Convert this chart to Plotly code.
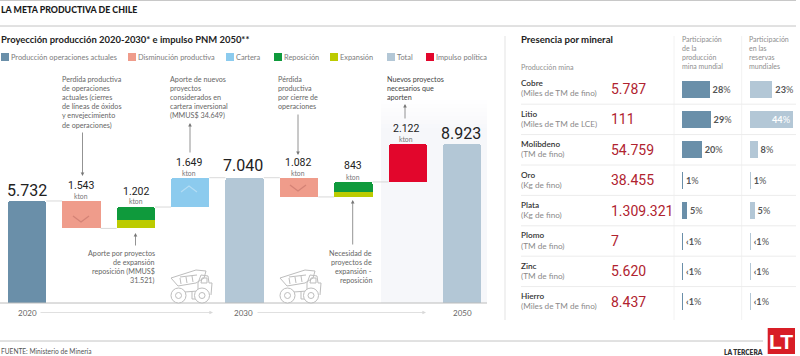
import plotly.graph_objects as go

W, H = 800, 356
SANS = "Lato"
NARROW = "Roboto"

# ---- data
steps = ["2020", "Disminución A", "Aporte", "Cartera", "2030", "Disminución B", "Necesidad", "Impulso", "2050"]
totals = [5732, None, None, None, 7040, None, None, None, 8923]
decline_from = [None, 5732, None, None, None, 7040, None, None, None]
decline = [None, 1543, None, None, None, 1082, None, None, None]
spacer_up = [None, None, 4189, 5391, None, None, 5958, 6801, None]
expansion = [None, None, 452, None, None, None, 293, None, None]
reposition = [None, None, 750, None, None, None, 550, None, None]
cartera = [None, None, None, 1649, None, None, None, None, None]
impulso = [None, None, None, None, None, None, None, 2122, None]

step_labels = ["5.732", "1.543", "1.202", "1.649", "7.040", "1.082", "843", "2.122", "8.923"]

minerals = ["Cobre", "Litio", "Molibdeno", "Oro", "Plata", "Plomo", "Zinc", "Hierro"]
units = ["(Miles de TM de fino)", "(Miles de TM de LCE)", "(TM de fino)", "(Kg de fino)",
         "(Kg de fino)", "(TM de fino)", "(TM de fino)", "(Miles de TM de fino)"]
production = ["5.787", "111", "54.759", "38.455", "1.309.321", "7", "5.620", "8.437"]
share_mine = [28, 29, 20, 1, 5, 0.7, 0.7, 0.7]
share_mine_lbl = ["<b>28</b>%", "<b>29</b>%", "<b>20</b>%", "<b>1</b>%", "<b>5</b>%", "<b>‹1</b>%", "<b>‹1</b>%", "<b>‹1</b>%"]
share_res = [23, 44, 8, 1, 5, 0.7, 0.7, 0.7]
share_res_lbl = ["<b>23</b>%", "<b>44</b>%", "<b>8</b>%", "<b>1</b>%", "<b>5</b>%", "<b>‹1</b>%", "<b>‹1</b>%", "<b>‹1</b>%"]

C_ACT, C_DEC, C_CAR, C_REP, C_EXP, C_TOT, C_RED = "#6a8fa9", "#ef9c8b", "#8ccbee", "#0f9a3c", "#bccb00", "#b3c7d6", "#e2062c"
C_TOTS = [C_ACT, C_TOT, C_TOT, C_TOT, C_TOT, C_TOT, C_TOT, C_TOT, C_TOT]
C_VAL = "#b0232f"

# ---- pixel helpers
PX = lambda x: x / W
PY = lambda y: 1 - y / H
STEP = 54.4
X0 = 27
BARW = 38.5 / STEP
PXU = 0.0178
YMAX = 303 / PXU

fig = go.Figure()
xkw = dict(x=list(range(9)), width=BARW, hoverinfo="skip", showlegend=False)

def bar(y, color, axis="y", radius=3):
    fig.add_trace(go.Bar(y=y, yaxis=axis, marker=dict(color=color, line_width=0, cornerradius=radius), **xkw))

bar(totals, C_TOTS)
bar(spacer_up, "rgba(0,0,0,0)", radius=0)
bar(expansion, C_EXP, radius=0)
bar(reposition, C_REP)
bar(cartera, C_CAR)
bar(impulso, C_RED)
# declines hang from the previous level: stacked on a mirrored axis so the tip points down
bar([None if v is None else YMAX - v for v in decline_from], "rgba(0,0,0,0)", axis="y2", radius=0)
bar(decline, C_DEC, axis="y2")

# right-hand panels
RSTEP, RC = 30.4, 89
ry = list(range(8))
fig.add_trace(go.Bar(y=ry, x=share_mine, orientation="h", width=17 / RSTEP, xaxis="x2", yaxis="y3",
                     marker=dict(color=C_ACT, line_width=0), text=share_mine_lbl, textposition="outside",
                     cliponaxis=False, textfont=dict(family=SANS, size=9.2, color="#555"), hoverinfo="skip", showlegend=False))
fig.add_trace(go.Bar(y=ry, x=share_res, orientation="h", width=17 / RSTEP, xaxis="x3", yaxis="y3",
                     marker=dict(color=C_TOT, line_width=0), text=share_res_lbl,
                     textposition=["outside", "inside"] + ["outside"] * 6,
                     insidetextanchor="end", constraintext="none",
                     cliponaxis=False,
                     textfont=dict(family=SANS, size=9.2, color=["#555", "#fff"] + ["#555"] * 6), hoverinfo="skip", showlegend=False))

shapes, annots = [], []

def line(x0, y0, x1, y1, color="#e6e6e6", width=1, dash=None):
    shapes.append(dict(type="line", xref="paper", yref="paper", x0=PX(x0), y0=PY(y0), x1=PX(x1), y1=PY(y1),
                       line=dict(color=color, width=width, dash=dash or "solid")))

def rect(x0, y0, x1, y1, color, layer="below"):
    shapes.append(dict(type="rect", xref="paper", yref="paper", x0=PX(x0), y0=PY(y0), x1=PX(x1), y1=PY(y1),
                       fillcolor=color, line_width=0, layer=layer))

def txt(x, y, s, size=7.2, color="#666", anchor="left", family=SANS, weight=None):
    font = dict(family=family, size=size, color=color)
    if weight:
        font["weight"] = weight
    annots.append(dict(x=PX(x), y=PY(y), xref="paper", yref="paper", text=s, showarrow=False, xanchor=anchor,
                       yanchor="middle", font=font, borderpad=0, borderwidth=0))

def block(x, y, lines, anchor="left", step=9.1, **kw):
    for i, s in enumerate(lines):
        txt(x, y + i * step, s, anchor=anchor, **kw)

def arrow(x0, y0, x1, y1, color="#777", width=0.8, size=0.9):
    annots.append(dict(x=PX(x1), y=PY(y1), ax=x0 - x1, ay=y0 - y1, xref="paper", yref="paper", axref="pixel", ayref="pixel",
                       text="", showarrow=True, arrowhead=2, arrowsize=size, arrowwidth=width, arrowcolor=color))

def path(points, color="#bdbdbd", width=1, layer="above", close=False):
    d = "M" + " L".join(f"{PX(a):.5f},{PY(b):.5f}" for a, b in points) + (" Z" if close else "")
    shapes.append(dict(type="path", xref="paper", yref="paper", path=d, layer=layer, line=dict(color=color, width=width)))

def circle(cx, cy, r, color="#bdbdbd"):
    shapes.append(dict(type="circle", xref="paper", yref="paper", x0=PX(cx - r), x1=PX(cx + r), y0=PY(cy - r), y1=PY(cy + r),
                       line=dict(color=color, width=1), fillcolor="#fff"))

def truck(ox, oy):
    path([(ox + 1, oy + 9), (ox + 26, oy + 1), (ox + 36, oy + 2), (ox + 34, oy + 9), (ox + 26, oy + 14), (ox + 8, oy + 17)], close=True)
    path([(ox + 10, oy + 9), (ox + 11, oy + 15)])
    path([(ox + 16, oy + 8), (ox + 17, oy + 14)])
    path([(ox + 22, oy + 7), (ox + 23, oy + 13)])
    path([(ox + 10, oy + 8), (ox + 27, oy + 6)])
    path([(ox + 28, oy + 14), (ox + 28, oy + 22), (ox + 15, oy + 23), (ox + 15, oy + 29)])
    path([(ox + 28, oy + 14), (ox + 31, oy + 6), (ox + 38, oy + 7), (ox + 39, oy + 14), (ox + 42, oy + 14), (ox + 41, oy + 26)])
    path([(ox + 32, oy + 9), (ox + 37, oy + 9), (ox + 37, oy + 14), (ox + 31, oy + 14)], close=True)
    path([(ox + 22, oy + 22), (ox + 22, oy + 30), (ox + 26, oy + 30)])
    circle(ox + 8.5, oy + 26.5, 7.5); circle(ox + 8.5, oy + 26.5, 3)
    circle(ox + 32, oy + 26.5, 7.5); circle(ox + 32, oy + 26.5, 3)

# panel backdrop (fading out towards its top) and rules
rect(381, 100, 487, 303, "#f6f7fa")
for k in range(8):
    rect(381, 100 + 4 * k, 487, 104 + 4 * k, f"rgba(255,255,255,{0.85 - 0.11 * k:.2f})")
line(505, 36, 505, 320, "#f1f1f1", 2)
line(0, 0.5, 796, 0.5, "#c8c8c8", 1)
line(0, 26, 796, 26, "#c4c4c4", 1)
line(0, 341, 763, 341, "#c4c4c4", 1)
line(0, 303, 487, 303, "#bcbcbc", 1)
for vx in (674, 741.7):
    line(vx, 36, vx, 320, "#f2f2f2", 1)
for i in range(7):
    hy = RC + (i + 0.5) * RSTEP
    line(521, hy, 796, hy, "#ececec", 1)

# connector levels between bars
levels = [(0, 5732), (1, 4189), (2, 5391), (3, 7040), (4, 7040), (5, 5958), (6, 6801)]
for i, lv in levels:
    a = X0 + STEP * i + 19.2
    b = X0 + STEP * (i + 1) - 19.2
    ly = 303 - lv * PXU
    line(a, ly, b, ly, "#cfcfcf", 0.8)

# chevrons
for cx, cy, up in [(81, 219, False), (189, 189, True), (298, 188, False)]:
    s = -1 if up else 1
    path([(cx - 8, cy - 3 * s), (cx, cy + 3 * s), (cx + 8, cy - 3 * s)], color="rgba(255,255,255,0.35)" if up else "rgba(190,110,100,0.55)", width=1.2)

truck(170, 269)
truck(279, 269)

# header
txt(1, 9, "LA META PRODUCTIVA DE CHILE", size=8.8, color="#1a1a1a", weight=900)
txt(1, 39, "Proyección producción 2020-2030* e impulso PNM 2050**", size=9.45, color="#222", weight=700)
txt(521, 39, "Presencia por mineral", size=9.6, color="#222", weight=700)

# legend
legend_items = [(1, "Producción operaciones actuales", C_ACT), (128, "Disminución productiva", C_DEC), (226, "Cartera", C_CAR),
                (274, "Reposición", C_REP), (330, "Expansión", C_EXP), (387, "Total", C_TOT), (426, "Impulso política", C_RED)]
for lx, name, col in legend_items:
    rect(lx, 53, lx + 8, 61, col)
    txt(lx + 10, 57, name, size=7.4, color="#7c7c7c")

# step labels
label_pos = [(27, 190, 16), (81, 185, 10.5), (135.5, 191, 10.5), (189, 163, 10.5), (243, 166, 16), (298, 163, 10.5), (352.5, 166, 10.5), (406, 128, 10.5), (461, 133, 16)]
for s, (lx, ly, fs) in zip(step_labels, label_pos):
    txt(lx, ly, s, size=fs, color="#222", anchor="center", family=NARROW)
for lx, ly in [(81, 196), (135.5, 201), (189, 172.5), (298, 172.5), (352.5, 176.5), (406, 139)]:
    txt(lx, ly, "kton", size=6.8, color="#777", anchor="center")

# notes
block(62, 79.5, ["Perdida productiva", "de operaciones", "actuales (cierres", "de líneas de óxidos", "y envejecimiento", "de operaciones)"])
block(170, 79.5, ["Aporte de nuevos", "proyectos", "considerados en", "cartera inversional", "(MMUS$ 34.649)"])
block(155, 253.3, ["Aporte por proyectos", "de expansión", "reposición (MMUS$", "31.521)"], anchor="right")
block(278, 79.5, ["Pérdida", "productiva", "por cierre de", "operaciones"])
block(372, 253.3, ["Necesidad de", "proyectos de", "expansión -", "reposición"], anchor="right")
block(387, 79.5, ["Nuevos proyectos", "necesarios que", "aporten"], color="#444")

arrow(82.5, 131, 82.5, 176)
arrow(190, 154, 190, 123)
arrow(135.5, 247, 135.5, 233)
arrow(298, 113, 298, 155)
arrow(352.7, 246, 352.7, 200)
arrow(405, 120, 405, 104)

# time axis
for s, lx in [("2020", 27), ("2030", 243), ("2050", 462.5)]:
    txt(lx, 312.5, s, size=8, color="#666", anchor="center")
arrow(39, 312.5, 213, 312.5, color="#d8d8d8")
arrow(256, 312.5, 426, 312.5, color="#d8d8d8")

# right panel text
txt(521, 67.5, "Producción mina", size=7.2, color="#909090")
block(682, 39, ["Participación", "de la", "producción", "mina mundial"], color="#8e8e8e", size=7)
block(749, 39, ["Participación", "en las", "reservas", "mundiales"], color="#8e8e8e", size=7)
for i, (m, u, v) in enumerate(zip(minerals, units, production)):
    cy = RC + i * RSTEP
    txt(521, cy - 5.6, m, size=8.2, color="#333", weight=600)
    txt(521, cy + 4.5, u, size=8.2, color="#8a8a8a")
    txt(610.5, cy, v, size=14, color=C_VAL, family=NARROW)

# footer
txt(1, 351, "FUENTE: Ministerio de Minería", size=6.6, color="#555")
txt(763, 352, "LA TERCERA", size=6.6, color="#333", anchor="right", weight=800)
rect(767.7, 328, 795, 354, "#d81e26", layer="above")
txt(781.4, 341, "LT", size=21, color="#fff", anchor="center", family="Liberation Sans", weight=700)

noax = dict(visible=False, fixedrange=True)
fig.update_layout(
    width=W, height=H, margin=dict(l=0, r=0, t=0, b=0), paper_bgcolor="#fff", plot_bgcolor="rgba(0,0,0,0)",
    barmode="stack", shapes=shapes, annotations=annots, showlegend=False,
    xaxis=dict(domain=[0, 490 / W], range=[-X0 / STEP, (490 - X0) / STEP], **noax),
    yaxis=dict(domain=[PY(303), 1], range=[0, YMAX], **noax),
    yaxis2=dict(domain=[PY(303), 1], range=[YMAX, 0], overlaying="y", **noax),
    xaxis2=dict(domain=[682 / W, 741 / W], range=[0, 59 / 0.985], anchor="y3", **noax),
    xaxis3=dict(domain=[749.7 / W, 796 / W], range=[0, 46.3 / 0.985], anchor="y3", **noax),
    yaxis3=dict(domain=[0, 1], range=[(H - RC) / RSTEP, -RC / RSTEP], anchor="x2", **noax),
)
fig.write_html("out.html", config={"displayModeBar": False},
               post_script="document.body.style.margin='0';document.documentElement.style.overflow='hidden';")
